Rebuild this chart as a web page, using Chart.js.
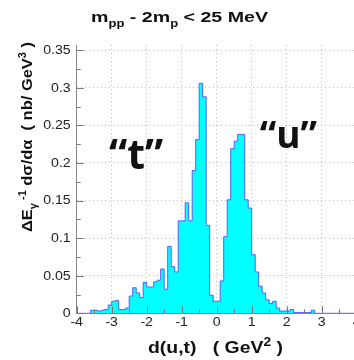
<!DOCTYPE html>
<html>
<head>
<meta charset="utf-8">
<script src="https://cdn.jsdelivr.net/npm/chart.js@4.4.1/dist/chart.umd.min.js"></script>
<style>
  html, body { margin: 0; padding: 0; background: #fff; overflow: hidden; }
  canvas { display: block; }
</style>
</head>
<body>
<canvas id="histChart" width="366" height="360"></canvas>
<script>
// histogram: 80 bins of 0.1 GeV^2 from -4 to 4
const binStart = -4;
const binWidth = 0.1;
const binCounts = [
  0, 0, 0, 0, 0.004, 0.004, 0.003, 0.004, 0.005, 0.011,
  0.016, 0.017, 0.005, 0.005, 0.007, 0.023, 0.034, 0.027, 0.021, 0.041,
  0.035, 0.035, 0.042, 0.044, 0.059, 0.032, 0.089, 0.062, 0.055, 0.123,
  0.123, 0.147, 0.123, 0.19, 0.231, 0.306, 0.288, 0.117, 0.024, 0.016,
  0.016, 0.043, 0.102, 0.151, 0.219, 0.229, 0.238, 0.238, 0.151, 0.14,
  0.078, 0.055, 0.036, 0.027, 0.018, 0.013, 0.016, 0.007, 0.003, 0.003,
  0.003, 0.005, 0.001, 0.001, 0.001, 0.001, 0.001, 0.004, 0, 0,
  0, 0, 0, 0, 0, 0, 0, 0, 0, 0
];
const xMin = -4, xMax = 4, xStep = 1;
const yMin = 0, yMax = 0.357, yStep = 0.05, yMinorStep = 0.025;

// labels drawn in the picture
const titleParts = [["m", ""], ["pp", "sub"], [" - 2m", ""], ["p", "sub"], [" < 25 MeV", ""]];
const xTitleParts = [["d(u,t)   ( GeV", ""], ["2", "sup"], [" )", ""]];
const yTitleParts = [["\u0394E", ""], ["\u03b3", "sub"], [" -1", "sup"], [" d\u03c3/d\u03b1  ( nb/ GeV", ""], ["3", "sup"], [" )", ""]];
const annotations = [
  { text: "\u201ct\u201d", x: -2.3, y: 0.192, size: 41 },
  { text: "\u201cu\u201d", x: 2.05, y: 0.22, size: 37 }
];

// step points at the left edge of every bin, plus the closing edge
let histPoints = binCounts.map((v, i) => ({ x: binStart + i * binWidth, y: v }));
histPoints.push({ x: binStart + binCounts.length * binWidth, y: binCounts[binCounts.length - 1] });

const FONT = '"Liberation Sans", Arial, Helvetica, sans-serif';
const STRETCH = 1.18; // the reference lettering is a bit wider than Helvetica

// text with sub/superscripts, squeezed or stretched to a given width
function drawRich(ctx, parts, x, y, size, width) {
  const fontFor = (k) => "bold " + (k ? Math.round(size * 0.68) : size) + "px " + FONT;
  let w = 0;
  parts.forEach(([t, k]) => { ctx.font = fontFor(k); w += ctx.measureText(t).width; });
  ctx.save();
  ctx.translate(x, y);
  ctx.scale(width / w, 1);
  ctx.textAlign = "left";
  ctx.textBaseline = "alphabetic";
  let cx = 0;
  parts.forEach(([t, k]) => {
    ctx.font = fontFor(k);
    let dy = k === "sub" ? size * 0.3 : k === "sup" ? -size * 0.42 : 0;
    ctx.fillText(t, cx, dy);
    cx += ctx.measureText(t).width;
  });
  ctx.restore();
}

function drawWide(ctx, text, x, y, align, baseline) {
  ctx.save();
  ctx.translate(x, y);
  ctx.scale(STRETCH, 1);
  ctx.textAlign = align;
  ctx.textBaseline = baseline;
  ctx.fillText(text, 0, 0);
  ctx.restore();
}

const decorPlugin = {
  id: "decor",
  afterDraw(chart) {
    const ctx = chart.ctx;
    const xs = chart.scales.x, ys = chart.scales.y;
    const area = chart.chartArea;

    // inward tick marks (ROOT style)
    ctx.save();
    ctx.strokeStyle = "#777";
    ctx.lineWidth = 1;
    ctx.beginPath();
    for (let v = yMin; v <= yMax + 1e-9; v += yMinorStep) {
      const py = Math.round(ys.getPixelForValue(v)) + 0.5;
      const major = Math.abs(v / yStep - Math.round(v / yStep)) < 1e-6;
      ctx.moveTo(area.left, py);
      ctx.lineTo(area.left + (major ? 7 : 4), py);
    }
    for (let v = xMin; v <= xMax + 1e-9; v += xStep / 2) {
      const px = Math.round(xs.getPixelForValue(v)) + 0.5;
      const major = Math.abs(v - Math.round(v)) < 1e-6;
      ctx.moveTo(px, area.bottom);
      ctx.lineTo(px, area.bottom - (major ? 7 : 4));
    }
    ctx.stroke();

    // tick labels from the scales
    ctx.fillStyle = "#222";
    ctx.font = "12px " + FONT;
    ys.ticks.forEach((t) => {
      drawWide(ctx, String(+t.value.toFixed(2)), area.left - 6, ys.getPixelForValue(t.value) + 0.5, "right", "middle");
    });
    xs.ticks.forEach((t) => {
      drawWide(ctx, String(t.value), xs.getPixelForValue(t.value), area.bottom + 3, "center", "top");
    });

    ctx.fillStyle = "#111";
    drawRich(ctx, titleParts, 91, 22, 15, 177);
    drawRich(ctx, xTitleParts, 148, 353, 17, 135);

    ctx.save();
    ctx.translate(32, 232);
    ctx.rotate(-Math.PI / 2);
    drawRich(ctx, yTitleParts, 0, 0, 15, 190);
    ctx.restore();

    ctx.textAlign = "center";
    ctx.textBaseline = "alphabetic";
    annotations.forEach((a) => {
      ctx.font = "bold " + a.size + "px \"Open Sans\", \"DejaVu Sans\", sans-serif";
      ctx.fillText(a.text, xs.getPixelForValue(a.x), ys.getPixelForValue(a.y));
    });
    ctx.restore();
  }
};

const ctx = document.getElementById("histChart").getContext("2d");

let chart = new Chart(ctx, {
  type: "line",
  data: {
    datasets: [
      {
        label: "d(u,t)",
        data: histPoints,
        stepped: "before",
        fill: "origin",
        backgroundColor: "#00ffff",
        borderColor: "#5a5cff",
        borderWidth: 1,
        pointRadius: 0,
      },
    ],
  },
  options: {
    responsive: false,
    animation: false,
    layout: { padding: { left: 0, top: 45, right: 9.3, bottom: 0 } },
    plugins: { legend: { display: false }, tooltip: { enabled: false } },
    scales: {
      x: {
        type: "linear",
        min: xMin,
        max: xMax,
        afterFit(scale) { scale.height = 46.7; },
        ticks: { stepSize: xStep, includeBounds: false, display: false },
        grid: { color: "#bbb", drawTicks: false },
        border: { color: "#888", dash: [1, 3] },
      },
      y: {
        min: yMin,
        max: yMax,
        afterFit(scale) { scale.width = 76.7; },
        ticks: { stepSize: yStep, includeBounds: false, display: false },
        grid: { color: "#bbb", drawTicks: false },
        border: { color: "#888", dash: [1, 3] },
      },
    },
  },
  plugins: [decorPlugin],
});
</script>
</body>
</html>
